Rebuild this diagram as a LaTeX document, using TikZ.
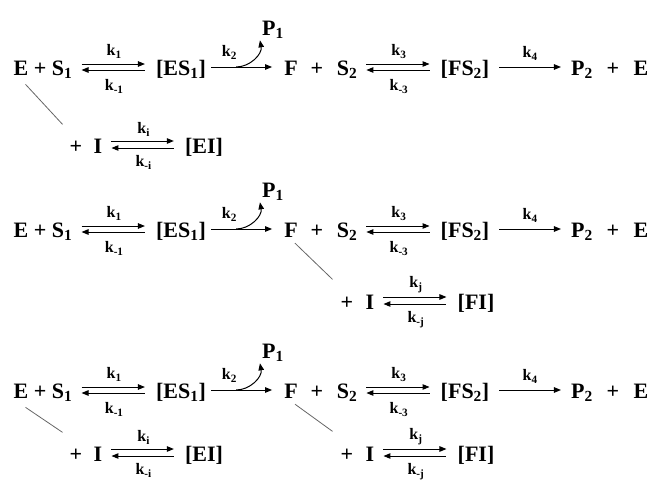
\documentclass[tikz,border=0pt]{standalone}
\usepackage{fontspec}
\setmainfont{Liberation Serif}
\usetikzlibrary{arrows.meta,calc}

\tikzset{
  chem/.style={font=\fontsize{22}{24}\selectfont\bfseries,inner sep=0pt,anchor=base},
  rate/.style={font=\fontsize{16}{18}\selectfont\bfseries,inner sep=0pt},
  rxn/.style={line width=1pt},
  fwd/.style={rxn,->,shorten <=9pt,shorten >=11pt},
  bwd/.style={rxn,<-,shorten <=9pt,shorten >=11pt},
  inh/.style={gray!80!black,line width=0.8pt}
}

\begin{document}
\begin{tikzpicture}[x=1pt,y=-1pt,>={Triangle[length=7pt,width=5.5pt]}]
\useasboundingbox (0,0) rectangle (651,482);

% --- the two-substrate scheme, drawn once per row ---
\foreach \r/\dy in {a/0,b/162,c/323}{
\begin{scope}[shift={(0,\dy)}]
  \node[chem] (\r-es) at (43,75) {E + S\textsubscript{1}};
  \node[chem] (\r-c1) at (181,75) {[ES\textsubscript{1}]};
  \node[chem] (\r-f) at (291,75) {F};
  \node[chem] (\r-pl) at (317,75) {+};
  \node[chem] (\r-s2) at (347,75) {S\textsubscript{2}};
  \node[chem] (\r-c2) at (465,75) {[FS\textsubscript{2}]};
  \node[chem] (\r-p2) at (582,75) {P\textsubscript{2}};
  \node[chem] (\r-pl2) at (613,75) {+};
  \node[chem] (\r-e) at (641,75) {E};
  \node[chem] (\r-p1) at (273,35) {P\textsubscript{1}};
  \coordinate (\r-up) at (0,64);
  \coordinate (\r-dn) at (0,70);
  \coordinate (\r-mid) at (0,67);
  \draw[fwd] (\r-es.east |- \r-up) -- node[rate,above=5pt] {k\textsubscript{1}} (\r-c1.west |- \r-up);
  \draw[bwd] (\r-es.east |- \r-dn) -- node[rate,below=9pt] {k\textsubscript{-1}} (\r-c1.west |- \r-dn);
  \draw[rxn,->,shorten <=5pt,shorten >=12pt] (\r-c1.east |- \r-mid)
    -- node[rate,pos=0.3,above=7pt] {k\textsubscript{2}} (\r-f.west |- \r-mid);
  \draw[rxn,->] ($(\r-c1.east |- \r-mid)+(30,0)$) to[out=0,in=-80] ($(\r-p1.south west)+(-2,2)$);
  \draw[fwd] (\r-s2.east |- \r-up) -- node[rate,above=5pt] {k\textsubscript{3}} (\r-c2.west |- \r-up);
  \draw[bwd] (\r-s2.east |- \r-dn) -- node[rate,below=9pt] {k\textsubscript{-3}} (\r-c2.west |- \r-dn);
  \draw[rxn,->,shorten <=10pt,shorten >=10pt] (\r-c2.east |- \r-mid)
    -- node[rate,above=6pt] {k\textsubscript{4}} (\r-p2.west |- \r-mid);
\end{scope}}

% --- inhibitor binding to E ---
\foreach \r/\dy in {a/0,c/308}{
\begin{scope}[shift={(0,\dy)}]
  \node[chem] (\r-ip) at (76,153) {+};
  \node[chem] (\r-ii) at (98,153) {I};
  \node[chem] (\r-ei) at (204,153) {[EI]};
  \coordinate (\r-iup) at (0,141);
  \coordinate (\r-idn) at (0,148);
  \draw[fwd] (\r-ii.east |- \r-iup) -- node[rate,above=4pt] {k\textsubscript{i}} (\r-ei.west |- \r-iup);
  \draw[bwd] (\r-ii.east |- \r-idn) -- node[rate,below=7pt] {k\textsubscript{-i}} (\r-ei.west |- \r-idn);
\end{scope}
  \draw[inh] ($(\r-es.south west)+(12,6)$) -- ($(\r-ip.north west)+(-7,-16)$);
}

% --- inhibitor binding to F ---
\foreach \r/\dy in {b/0,c/152}{
\begin{scope}[shift={(0,\dy)}]
  \node[chem] (\r-jp) at (347,309) {+};
  \node[chem] (\r-ji) at (370,309) {I};
  \node[chem] (\r-fi) at (476,309) {[FI]};
  \coordinate (\r-jup) at (0,297);
  \coordinate (\r-jdn) at (0,304);
  \draw[fwd] (\r-ji.east |- \r-jup) -- node[rate,above=4pt] {k\textsubscript{j}} (\r-fi.west |- \r-jup);
  \draw[bwd] (\r-ji.east |- \r-jdn) -- node[rate,below=7pt] {k\textsubscript{-j}} (\r-fi.west |- \r-jdn);
\end{scope}
  \draw[inh] ($(\r-f.south)+(4,6)$) -- ($(\r-jp.north west)+(-8,-17)$);
}

\end{tikzpicture}
\end{document}
